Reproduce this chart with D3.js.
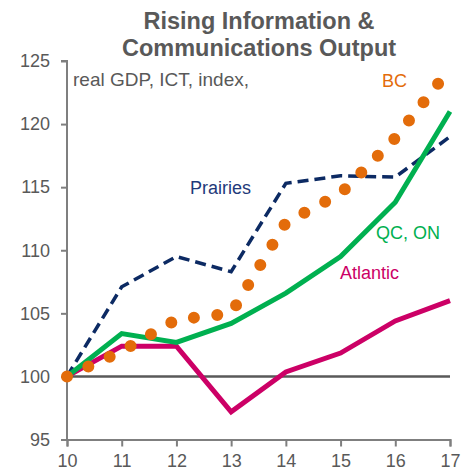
<!DOCTYPE html>
<html>
<head>
<meta charset="utf-8">
<script src="https://cdn.jsdelivr.net/npm/d3@7"></script>
<style>
  body { margin: 0; background: #fff; }
  svg { font-family: Arial, "Liberation Sans", sans-serif; }
</style>
</head>
<body>
<svg id="chart" width="471" height="473"></svg>
<script>
// index, 2010 = 100
const years = [10, 11, 12, 13, 14, 15, 16, 17];
const prairies = [100, 107.1, 109.5, 108.3, 115.3, 115.9, 115.8, 119.0];
const qcOn = [100, 103.4, 102.7, 104.2, 106.6, 109.5, 113.8, 121.0];
const atlantic = [100, 102.4, 102.4, 97.2, 100.35, 101.85, 104.4, 106.0];
const bc = [100, 102.0, 104.5, 105.0, 112.2, 114.5, 118.9, 124.4];
const yTicks = [95, 100, 105, 110, 115, 120, 125];

const svg = d3.select("#chart");
const x = d3.scaleLinear().domain([10, 17]).range([67, 450]);
const y = d3.scaleLinear().domain([95, 125]).range([439.5, 61]);
const grey = "#595959";

// title
svg.append("text")
    .attr("x", 259).attr("y", 29)
    .attr("text-anchor", "middle")
    .attr("font-size", 23.5).attr("font-weight", "bold")
    .attr("fill", grey)
    .selectAll("tspan")
    .data(["Rising Information &", "Communications Output"])
    .join("tspan")
    .attr("x", 259)
    .attr("dy", (d, i) => i ? 26.5 : 0)
    .text(d => d);

// axes
const yAxis = svg.append("g")
    .attr("transform", `translate(${x(10)},0)`)
    .call(d3.axisLeft(y).tickValues(yTicks).tickSize(6).tickPadding(11));
const xAxis = svg.append("g")
    .attr("transform", `translate(0,${y(95)})`)
    .call(d3.axisBottom(x).tickValues(years).tickFormat(d3.format("d")).tickSize(7).tickPadding(8));

[yAxis, xAxis].forEach(g => {
    g.select(".domain").attr("stroke", "#7f7f7f").attr("stroke-width", 2);
    g.selectAll(".tick line").attr("stroke", "#7f7f7f").attr("stroke-width", 2);
    g.selectAll(".tick text").attr("fill", grey).attr("font-size", 18)
        .attr("font-family", "Arial, 'Liberation Sans', sans-serif");
});
yAxis.select(".domain").attr("d", `M-6,${y(125)}H0V${y(95)}`);

// 100 line
svg.append("line")
    .attr("x1", x(10)).attr("x2", x(17))
    .attr("y1", y(100)).attr("y2", y(100))
    .attr("stroke", grey).attr("stroke-width", 2.5);

const line = d3.line().x((d, i) => x(years[i])).y(d => y(d));

svg.append("path").datum(atlantic)
    .attr("d", line).attr("fill", "none")
    .attr("stroke", "#cc0066").attr("stroke-width", 5);

svg.append("path").datum(prairies)
    .attr("d", line).attr("fill", "none")
    .attr("stroke", "#0c2a63").attr("stroke-width", 3.5)
    .attr("stroke-dasharray", "11 6");

svg.append("path").datum(qcOn)
    .attr("d", line).attr("fill", "none")
    .attr("stroke", "#00b050").attr("stroke-width", 5);

svg.append("path").datum(bc)
    .attr("d", line).attr("fill", "none")
    .attr("stroke", "#e36c0a").attr("stroke-width", 12)
    .attr("stroke-linecap", "round")
    .attr("stroke-dasharray", "0 23.5");

// labels
const labels = [
    { text: "real GDP, ICT, index,", x: 73, y: 86, color: grey, size: 19 },
    { text: "BC", x: 382, y: 87, color: "#e36c0a", size: 18 },
    { text: "Prairies", x: 190, y: 194, color: "#1f3a7a", size: 18 },
    { text: "QC, ON", x: 376, y: 239, color: "#00b050", size: 18 },
    { text: "Atlantic", x: 340, y: 279, color: "#cc0066", size: 18 }
];
svg.selectAll(".lbl").data(labels).join("text")
    .attr("class", "lbl")
    .attr("x", d => d.x).attr("y", d => d.y)
    .attr("font-size", d => d.size)
    .attr("fill", d => d.color)
    .text(d => d.text);
</script>
</body>
</html>
